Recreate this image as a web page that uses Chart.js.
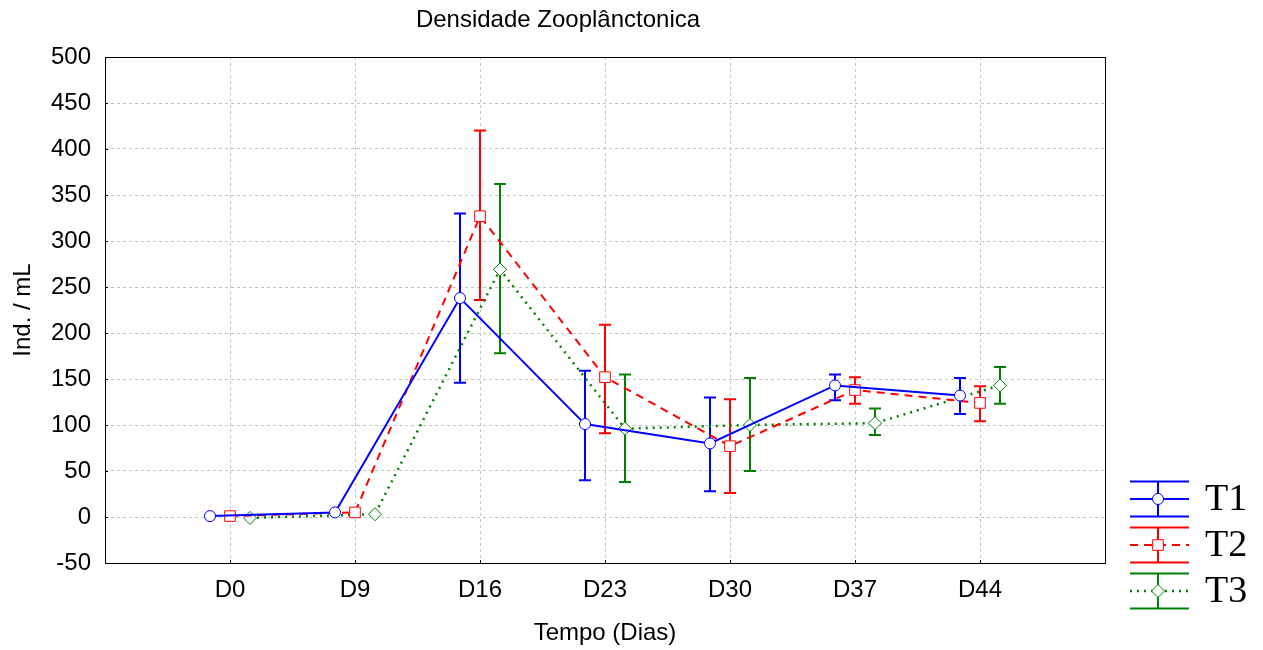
<!DOCTYPE html>
<html>
<head>
<meta charset="utf-8">
<script src="https://cdn.jsdelivr.net/npm/chart.js@4.4.0/dist/chart.umd.min.js"></script>
<style>
  html, body { margin: 0; padding: 0; background: #fff; }
  #wrap { width: 1263px; height: 650px; }
</style>
</head>
<body>
<div id="wrap"><canvas id="chart"></canvas></div>
<script>
/* Densidade Zooplânctonica — means with error bars per treatment */

const DAYS    = ['D0', 'D9', 'D16', 'D23', 'D30', 'D37', 'D44'];
const SERIES  = ['T1', 'T2', 'T3'];
const Y_TICKS = [-50, 0, 50, 100, 150, 200, 250, 300, 350, 400, 450, 500];

const T1_MEAN = [1, 5, 238, 101, 80, 143, 132];
const T1_LOW  = [null, null, 146, 40, 28, 127, 112];
const T1_HIGH = [null, null, 330, 159, 130, 155, 151];

const T2_MEAN = [1, 5, 327, 152, 77, 138, 124];
const T2_LOW  = [null, null, 236, 91, 26, 123, 104];
const T2_HIGH = [null, null, 420, 209, 128, 152, 142];

const T3_MEAN = [-1, 3, 269, 96, 100, 102, 143];
const T3_LOW  = [null, null, 178, 38, 50, 89, 123];
const T3_HIGH = [null, null, 362, 155, 151, 118, 163];

const OFFSET = [-0.16, 0, 0.16];

const FONT  = "'Liberation Sans', Arial, sans-serif";
const SERIF = "'Liberation Serif', 'Times New Roman', serif";
const GRID  = '#c4c4c4';
const FS    = 24;

const STYLE = [
  { color: '#0000ff', dash: [],     width: 2,   point: 'circle',  radius: 5.5 },
  { color: '#ff0000', dash: [8, 6], width: 2,   point: 'rect',    radius: 7.5 },
  { color: '#008000', dash: [2, 5], width: 2.5, point: 'rectRot', radius: 6.5 },
];

const MEANS = [T1_MEAN, T2_MEAN, T3_MEAN];
const LOWS  = [T1_LOW, T2_LOW, T3_LOW];
const HIGHS = [T1_HIGH, T2_HIGH, T3_HIGH];

function _points(k) {
  return MEANS[k].map((v, i) => ({ x: i + OFFSET[k], y: v }));
}

/* ── error bars under the markers ── */
const errorBars = {
  id: 'errorBars',
  beforeDatasetsDraw(chart) {
    const { ctx, scales: { x, y } } = chart;
    ctx.save();
    ctx.setLineDash([]);
    MEANS.forEach((m, k) => {
      ctx.strokeStyle = STYLE[k].color;
      ctx.lineWidth = 2;
      m.forEach((_, i) => {
        if (LOWS[k][i] == null) return;
        const px = x.getPixelForValue(i + OFFSET[k]);
        const lo = y.getPixelForValue(LOWS[k][i]);
        const hi = y.getPixelForValue(HIGHS[k][i]);
        ctx.beginPath();
        ctx.moveTo(px, lo); ctx.lineTo(px, hi);
        ctx.moveTo(px - 6, lo); ctx.lineTo(px + 6, lo);
        ctx.moveTo(px - 6, hi); ctx.lineTo(px + 6, hi);
        ctx.stroke();
      });
    });
    ctx.restore();
  },
};

/* ── frame, small ticks, title and legend ── */
const decor = {
  id: 'decor',
  afterDraw(chart) {
    const { ctx, chartArea: a, scales: { x, y } } = chart;
    ctx.save();
    ctx.setLineDash([]);
    ctx.strokeStyle = '#000';
    ctx.lineWidth = 1;
    ctx.strokeRect(Math.round(a.left) + 0.5, Math.round(a.top) + 0.5,
                   Math.round(a.right - a.left), Math.round(a.bottom - a.top));
    ctx.beginPath();
    Y_TICKS.forEach(v => {
      const py = Math.round(y.getPixelForValue(v)) + 0.5;
      ctx.moveTo(a.left, py); ctx.lineTo(a.left + 3, py);
    });
    DAYS.forEach((_, i) => {
      const px = Math.round(x.getPixelForValue(i)) + 0.5;
      ctx.moveTo(px, a.bottom); ctx.lineTo(px, a.bottom - 3);
    });
    ctx.stroke();

    ctx.fillStyle = '#000';
    ctx.font = FS + 'px ' + FONT;
    ctx.textAlign = 'center';
    ctx.textBaseline = 'alphabetic';
    ctx.fillText('Densidade Zooplânctonica', 558, 27);

    // legend
    const x0 = 1130, x1 = 1189, xm = 1158;
    SERIES.forEach((name, k) => {
      const s = STYLE[k];
      const cy = 499 + k * 46;
      const t = cy - 17.5, b = cy + 17.5;
      ctx.strokeStyle = s.color;
      ctx.lineWidth = 2;
      ctx.setLineDash([]);
      ctx.beginPath();
      ctx.moveTo(x0, t); ctx.lineTo(x1, t);
      ctx.moveTo(x0, b); ctx.lineTo(x1, b);
      ctx.moveTo(xm, t); ctx.lineTo(xm, b);
      ctx.stroke();
      ctx.lineWidth = s.width;
      ctx.setLineDash(s.dash);
      ctx.beginPath();
      ctx.moveTo(x0, cy); ctx.lineTo(x1, cy);
      ctx.stroke();
      ctx.setLineDash([]);
      ctx.fillStyle = '#fff';
      ctx.lineWidth = 1;
      Chart.helpers.drawPoint(ctx, { pointStyle: s.point, radius: s.radius, borderWidth: 1, rotation: 0 }, xm, cy);
      ctx.fillStyle = '#000';
      ctx.font = '38px ' + SERIF;
      ctx.textAlign = 'left';
      ctx.textBaseline = 'middle';
      ctx.fillText(name, 1205, cy + 1);
    });
    ctx.restore();
  },
};

new Chart(document.getElementById('chart'), {
  type: 'line',
  data: {
    datasets: SERIES.map((name, k) => ({
      label: name,
      data: _points(k),
      borderColor: STYLE[k].color,
      borderWidth: STYLE[k].width,
      borderDash: STYLE[k].dash,
      tension: 0,
      pointStyle: STYLE[k].point,
      pointRadius: STYLE[k].radius,
      pointBackgroundColor: '#ffffff',
      pointBorderColor: STYLE[k].color,
      pointBorderWidth: 1,
    })),
  },
  options: {
    responsive: true,
    maintainAspectRatio: false,
    animation: false,
    layout: { padding: { top: 57, right: 158, left: 0, bottom: 0 } },
    plugins: {
      legend: { display: false },
      title: { display: false },
      tooltip: { enabled: false },
    },
    scales: {
      x: {
        type: 'linear',
        min: -1, max: 7,
        afterFit: s => { s.height = 87; },
        afterBuildTicks: s => { s.ticks = [-1, 0, 1, 2, 3, 4, 5, 6, 7].map(v => ({ value: v })); },
        grid: {
          drawTicks: false,
          color: c => (c.tick && c.tick.value >= 0 && c.tick.value <= 6) ? GRID : 'rgba(0,0,0,0)',
        },
        border: { display: false, dash: [3, 3] },
        ticks: {
          autoSkip: false, maxRotation: 0, padding: 13,
          color: '#000', font: { family: FONT, size: FS },
          callback: v => DAYS[v] || '',
        },
        title: {
          display: true, text: 'Tempo (Dias)', color: '#000',
          font: { family: FONT, size: FS }, padding: { top: 0, bottom: 2 },
        },
      },
      y: {
        min: -50, max: 500,
        afterFit: s => { s.width = 105; },
        afterBuildTicks: s => { s.ticks = Y_TICKS.map(v => ({ value: v })); },
        grid: { drawTicks: false, color: GRID },
        border: { display: false, dash: [3, 3] },
        ticks: {
          padding: 14, color: '#000', font: { family: FONT, size: FS },
        },
        title: {
          display: true, text: 'Ind. / mL', color: '#000',
          font: { family: FONT, size: FS }, padding: { top: 9, bottom: 0 },
        },
      },
    },
  },
  plugins: [errorBars, decor],
});
</script>
</body>
</html>
